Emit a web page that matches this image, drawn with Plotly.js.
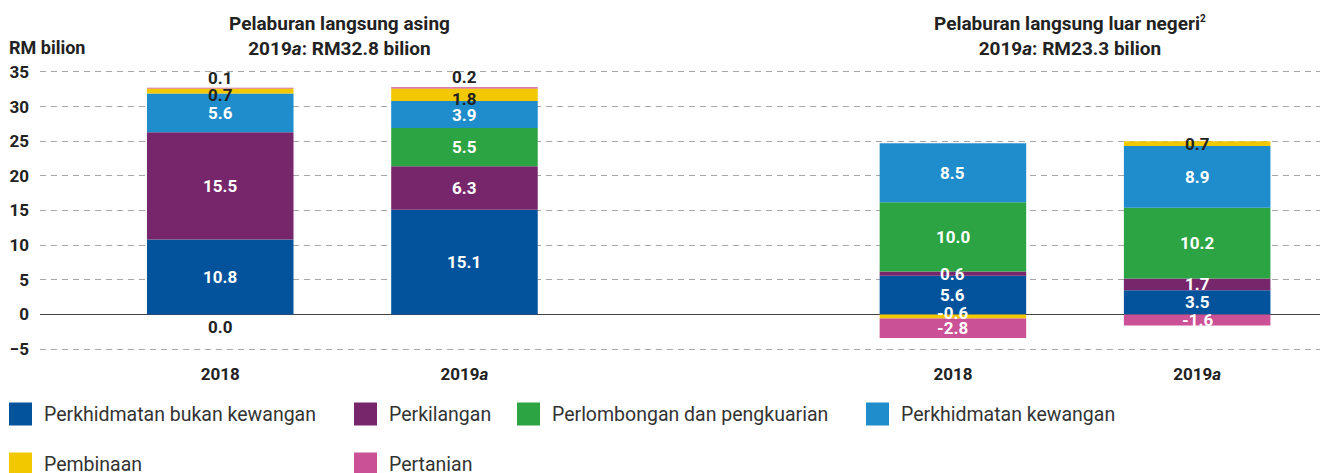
<!DOCTYPE html>
<html>
<head>
<meta charset="utf-8">
<script src="https://cdn.plot.ly/plotly-3.0.1.min.js"></script>
<style>
  html, body { margin: 0; padding: 0; background: #fff; }
  #chart { width: 1320px; height: 473px; }
</style>
</head>
<body>
<div id="chart"></div>
<script>
// ---- Data ----
const categories = ['FDI-2018', 'FDI-2019a', 'gap', 'DIA-2018', 'DIA-2019a'];
const tickLabels = ['2018', '2019<i>a</i>', ' ', '2018', '2019<i>a</i>'];
const barCategories = ['FDI-2018', 'FDI-2019a', 'DIA-2018', 'DIA-2019a'];

const sectorNames = [
  'Perkhidmatan bukan kewangan',
  'Perkilangan',
  'Perlombongan dan pengkuarian',
  'Perkhidmatan kewangan',
  'Pembinaan',
  'Pertanian'
];
const sectorColors = ['#02539c', '#78266b', '#2ca443', '#1f8ccb', '#f2c800', '#cb5196'];

const perkhidmatanBukanKewangan = [10.8, 15.1, 5.6, 3.5];
const perkilangan = [15.5, 6.3, 0.6, 1.7];
const perlombongan = [0.0, 5.5, 10.0, 10.2];
const perkhidmatanKewangan = [5.6, 3.9, 8.5, 8.9];
const pembinaan = [0.7, 1.8, -0.6, 0.7];
const pertanian = [0.1, 0.2, -2.8, -1.6];

const seriesValues = [perkhidmatanBukanKewangan, perkilangan, perlombongan,
                      perkhidmatanKewangan, pembinaan, pertanian];

const groupTitles = [
  {text: '<b>Pelaburan langsung asing</b><br><b>2019<i>a</i>: RM32.8 bilion</b>', center: 0.49},
  {text: '<b>Pelaburan langsung luar negeri<sup><span style="font-size:10px">2</span></sup></b><br><b>2019<i>a</i>: RM23.3 bilion</b>', center: 3.48}
];
const yAxisLabel = '<b>RM bilion</b>';

// ---- Layout constants ----
const FONT = 'Roboto, "Open Sans", sans-serif';
const W = 1320, H = 473;
const M = {l: 40, r: 0, t: 65, b: 117};
const plotW = W - M.l - M.r, plotH = H - M.t - M.b;
const px2paperX = px => (px - M.l) / plotW;
const px2paperY = py => (H - M.b - py) / plotH;

// ---- Traces ----
const traces = seriesValues.map((vals, i) => ({
  type: 'bar',
  name: sectorNames[i],
  x: barCategories,
  y: vals,
  marker: {color: sectorColors[i], line: {width: 0}},
  width: 0.6,
  showlegend: false,
  hoverinfo: 'skip'
}));

// ---- Value labels (computed from stacked data) ----
const annotations = [];
barCategories.forEach((cat, j) => {
  let pos = 0, neg = 0;
  seriesValues.forEach((vals, i) => {
    const v = vals[j];
    let base;
    if (v >= 0) { base = pos; pos += v; } else { base = neg; neg += v; }
    const top = base + v;
    let y = base + v / 2, yanchor = 'middle', yshift = 0;
    let color = '#ffffff';
    if (v === 0) { y = 0; yanchor = 'top'; yshift = -1; color = '#222'; }
    else if (i === 5 && v > 0) { y = top; yanchor = 'bottom'; yshift = -2; color = '#222'; }
    else if (i === 4 && v > 0) {
      color = '#222';
      if (seriesValues[5][j] > 0) yshift = -4;
    }
    else if (i === 4 && v < 0) { yshift = 4; }
    annotations.push({
      x: cat, y: y, xref: 'x', yref: 'y',
      text: '<b>' + v.toFixed(1) + '</b>',
      showarrow: false, yanchor: yanchor, yshift: yshift,
      font: {family: FONT, size: 17, color: color}
    });
  });
});

// Group titles
groupTitles.forEach(g => {
  annotations.push({
    x: g.center, xref: 'x', y: px2paperY(36), yref: 'paper',
    text: g.text, showarrow: false, xanchor: 'center', yanchor: 'middle',
    align: 'center',
    font: {family: FONT, size: 19, color: '#222'}
  });
});

// Y axis label
annotations.push({
  x: px2paperX(7), xref: 'paper', y: px2paperY(47), yref: 'paper',
  text: yAxisLabel, showarrow: false, xanchor: 'left', yanchor: 'middle',
  font: {family: FONT, size: 18, color: '#222'}
});

// ---- Custom legend (swatches + labels) ----
const legendSlots = [
  {x: 9, y: 414}, {x: 354, y: 414}, {x: 517, y: 414}, {x: 866, y: 414},
  {x: 9, y: 464}, {x: 354, y: 464}
];
const shapes = [];
sectorNames.forEach((name, i) => {
  const s = legendSlots[i];
  shapes.push({
    type: 'rect', xref: 'paper', yref: 'paper',
    xsizemode: 'pixel', ysizemode: 'pixel',
    xanchor: px2paperX(s.x), yanchor: px2paperY(s.y),
    x0: 0, x1: 23, y0: -11.5, y1: 11.5,
    fillcolor: sectorColors[i], line: {width: 0}
  });
  annotations.push({
    x: px2paperX(s.x + 33), xref: 'paper', y: px2paperY(s.y), yref: 'paper',
    text: name, showarrow: false, xanchor: 'left', yanchor: 'middle',
    font: {family: FONT, size: 19.5, color: '#333'}
  });
});

const layout = {
  width: W, height: H,
  margin: M,
  paper_bgcolor: '#fff', plot_bgcolor: '#fff',
  barmode: 'relative',
  showlegend: false,
  font: {family: FONT, color: '#222'},
  xaxis: {
    type: 'category',
    categoryorder: 'array',
    categoryarray: categories,
    tickvals: categories,
    ticktext: tickLabels,
    range: [-0.738, 4.503],
    showgrid: false, zeroline: false, showline: false,
    ticks: '', ticklabelstandoff: 6,
    tickfont: {family: FONT, size: 17, color: '#222', weight: 'bold'},
    fixedrange: true
  },
  yaxis: {
    range: [-6, 36],
    tickvals: [-5, 0, 5, 10, 15, 20, 25, 30, 35],
    showgrid: true, gridcolor: '#a6a6a6', gridwidth: 1, griddash: '6px,5px',
    zeroline: true, zerolinecolor: '#444', zerolinewidth: 1.5,
    showline: false, ticks: '', ticklabelstandoff: 10,
    tickfont: {family: FONT, size: 17, color: '#222', weight: 'bold'},
    fixedrange: true
  },
  annotations: annotations,
  shapes: shapes
};

Plotly.newPlot('chart', traces, layout, {displayModeBar: false, staticPlot: true});
</script>
</body>
</html>
